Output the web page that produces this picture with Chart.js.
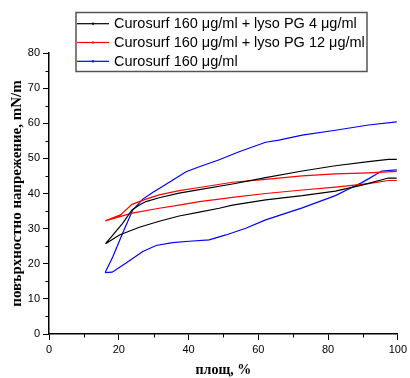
<!DOCTYPE html>
<html>
<head>
<meta charset="utf-8">
<script src="https://cdn.jsdelivr.net/npm/chart.js@4/dist/chart.umd.min.js"></script>
<style>
  html, body { margin: 0; padding: 0; background: #fff; }
  canvas { display: block; }
</style>
</head>
<body>
<canvas id="c" width="410" height="378"></canvas>
<script>
// Series labels
const seriesLabels = [
  'Curosurf 160 \u03bcg/ml + lyso PG 4 \u03bcg/ml',
  'Curosurf 160 \u03bcg/ml + lyso PG 12 \u03bcg/ml',
  'Curosurf 160 \u03bcg/ml'
];
const seriesColors = ['#000000', '#ff0000', '#0000ff'];

// Curosurf + lyso PG 4: lower branch (area rising) and upper branch (area falling)
const pg4LowerArea    = [16.2, 20.2, 25.9, 31.6, 37.3, 43.1, 48.8, 52.6, 62.1, 72.6, 82.1, 89.7, 97.3, 99.7];
const pg4LowerTension = [25.7, 28.2, 30.4, 32.1, 33.6, 34.7, 35.8, 36.7, 38.2, 39.4, 40.7, 42.4, 44.4, 44.4];
const pg4UpperArea    = [99.7, 97.3, 91.6, 82.1, 72.6, 62.1, 52.6, 43.1, 37.3, 31.6, 27.8, 25.9, 23.8, 21.1, 17.8, 16.2];
const pg4UpperTension = [49.7, 49.7, 49.1, 47.9, 46.4, 44.5, 42.7, 41.1, 40.1, 38.8, 37.7, 36.7, 35.3, 31.5, 27.6, 25.7];

// Curosurf + lyso PG 12
const pg12LowerArea    = [16.1, 23.8, 31.6, 37.3, 43.1, 48.8, 52.6, 62.1, 72.6, 82.1, 91.6, 97.3, 99.7];
const pg12LowerTension = [32.2, 34.4, 35.8, 36.7, 37.7, 38.4, 38.9, 40.0, 41.0, 41.8, 42.8, 43.7, 43.7];
const pg12UpperArea    = [99.7, 91.6, 82.1, 72.6, 62.1, 52.6, 43.1, 37.3, 31.6, 27.8, 23.8, 20.5, 16.1];
const pg12UpperTension = [46.3, 45.9, 45.6, 45.0, 44.0, 43.2, 41.7, 40.8, 39.6, 38.4, 36.9, 33.9, 32.2];

// Curosurf alone
const curLowerArea    = [16.1, 18.1, 22.1, 26.9, 30.7, 35.4, 40.2, 45.9, 50.7, 56.4, 62.1, 72.6, 82.1, 85.9, 89.7, 95.4, 99.7];
const curLowerTension = [17.5, 17.6, 20.2, 23.5, 25.2, 26.0, 26.4, 26.8, 28.2, 30.1, 32.5, 35.9, 39.4, 41.3, 43.1, 46.4, 46.7];
const curUpperArea    = [99.7, 91.6, 82.1, 72.6, 65.9, 62.1, 54.5, 48.8, 43.1, 39.3, 35.4, 31.7, 29.7, 26.9, 24.0, 21.1, 18.3, 16.1];
const curUpperTension = [60.4, 59.5, 58.0, 56.6, 55.2, 54.6, 51.9, 49.6, 47.6, 46.2, 43.8, 41.5, 40.3, 38.4, 35.3, 28.7, 22.0, 17.5];

// Axis ticks
const xMajorTicks = [0, 20, 40, 60, 80, 100];
const xMinorTicks = [10, 30, 50, 70, 90];
const yMajorTicks = [0, 10, 20, 30, 40, 50, 60, 70, 80];
const yMinorTicks = [5, 15, 25, 35, 45, 55, 65, 75];

// Both branches join at the smallest area and stay open at the largest one
function loop(ax, ay, bx, by) {
  const pts = [];
  ax.forEach((x, i) => pts.push({ x: x, y: ay[i] }));
  pts.push({ x: ax[ax.length - 1], y: null });
  bx.forEach((x, i) => pts.push({ x: x, y: by[i] }));
  return pts;
}

const loops = [
  loop(pg4LowerArea, pg4LowerTension, pg4UpperArea, pg4UpperTension),
  loop(pg12LowerArea, pg12LowerTension, pg12UpperArea, pg12UpperTension),
  loop(curLowerArea, curLowerTension, curUpperArea, curUpperTension)
];

// Shorter outward ticks between the labelled ones
const minorTicks = {
  id: 'minorTicks',
  afterDraw(chart) {
    const ctx = chart.ctx;
    const xs = chart.scales.x, ys = chart.scales.y;
    const area = chart.chartArea;
    ctx.save();
    ctx.strokeStyle = '#000';
    ctx.lineWidth = 1;
    ctx.beginPath();
    xMinorTicks.forEach(v => {
      const px = Math.round(xs.getPixelForValue(v)) + 0.5;
      ctx.moveTo(px, area.bottom);
      ctx.lineTo(px, area.bottom + 3.5);
    });
    yMinorTicks.forEach(v => {
      const py = Math.round(ys.getPixelForValue(v)) + 0.5;
      ctx.moveTo(area.left, py);
      ctx.lineTo(area.left - 3.5, py);
    });
    ctx.stroke();
    ctx.restore();
  }
};

// Boxed legend overlapping the top of the plot
const boxLegend = {
  id: 'boxLegend',
  afterDraw(chart) {
    const ctx = chart.ctx;
    const box = { left: 76, top: 12.5, right: 367, bottom: 71.5 };
    ctx.save();
    ctx.fillStyle = '#fff';
    ctx.fillRect(box.left, box.top, box.right - box.left, box.bottom - box.top);
    ctx.strokeStyle = '#555';
    ctx.lineWidth = 1.5;
    ctx.strokeRect(box.left, box.top, box.right - box.left, box.bottom - box.top);
    ctx.font = '14.5px "Liberation Sans", Arial, sans-serif';
    ctx.textBaseline = 'middle';
    ctx.textAlign = 'left';
    chart.data.datasets.forEach((ds, i) => {
      const y = 23.7 + i * 18.8;
      ctx.strokeStyle = ds.borderColor;
      ctx.lineWidth = 1.2;
      ctx.beginPath();
      ctx.moveTo(77, y);
      ctx.lineTo(109, y);
      ctx.stroke();
      ctx.fillStyle = ds.borderColor;
      ctx.fillRect(92, y - 1, 2, 2);
      ctx.fillStyle = '#000';
      ctx.fillText(ds.label, 114, y + 0.5);
    });
    ctx.restore();
  }
};

const tickFont = { family: '"Liberation Sans", Arial, sans-serif', size: 11 };
const xTitleFont = { family: '"Liberation Serif", "Times New Roman", serif', size: 14, weight: 'bold', lineHeight: 1 };
const yTitleFont = { family: '"Liberation Serif", "Times New Roman", serif', size: 15, weight: 'bold', lineHeight: 1 };

new Chart(document.getElementById('c'), {
  type: 'scatter',
  data: {
    datasets: loops.map((pts, i) => ({
      label: seriesLabels[i],
      data: pts,
      showLine: true,
      spanGaps: false,
      borderColor: seriesColors[i],
      backgroundColor: seriesColors[i],
      borderWidth: 1.2,
      pointRadius: 0,
      tension: 0,
      fill: false
    }))
  },
  options: {
    responsive: false,
    animation: false,
    devicePixelRatio: 1,
    layout: { padding: { top: 53, right: 11, left: 0, bottom: 0 } },
    plugins: {
      legend: { display: false },
      tooltip: { enabled: false }
    },
    scales: {
      x: {
        type: 'linear',
        min: 0, max: 100,
        afterBuildTicks(scale) { scale.ticks = xMajorTicks.map(v => ({ value: v })); },
        afterFit(scale) { scale.height = 44; },
        grid: { display: true, drawOnChartArea: false, drawTicks: true, tickLength: 6, tickColor: '#000', tickWidth: 1 },
        border: { display: true, color: '#000', width: 1.5 },
        ticks: { color: '#000', font: tickFont, padding: 3, maxRotation: 0 },
        title: { display: true, text: 'площ, %', color: '#000', font: xTitleFont, padding: { top: 0, bottom: 1 } }
      },
      y: {
        type: 'linear',
        min: 0, max: 80,
        afterBuildTicks(scale) { scale.ticks = yMajorTicks.map(v => ({ value: v })); },
        afterFit(scale) { scale.width = 49; },
        grid: { display: true, drawOnChartArea: false, drawTicks: true, tickLength: 6, tickColor: '#000', tickWidth: 1 },
        border: { display: true, color: '#000', width: 1.5 },
        ticks: { color: '#000', font: tickFont, padding: 3 },
        title: { display: true, text: 'повърхностно напрежение, mN/m', color: '#000', font: yTitleFont, padding: { top: 10, bottom: 0 } }
      }
    }
  },
  plugins: [minorTicks, boxLegend]
});
</script>
</body>
</html>
